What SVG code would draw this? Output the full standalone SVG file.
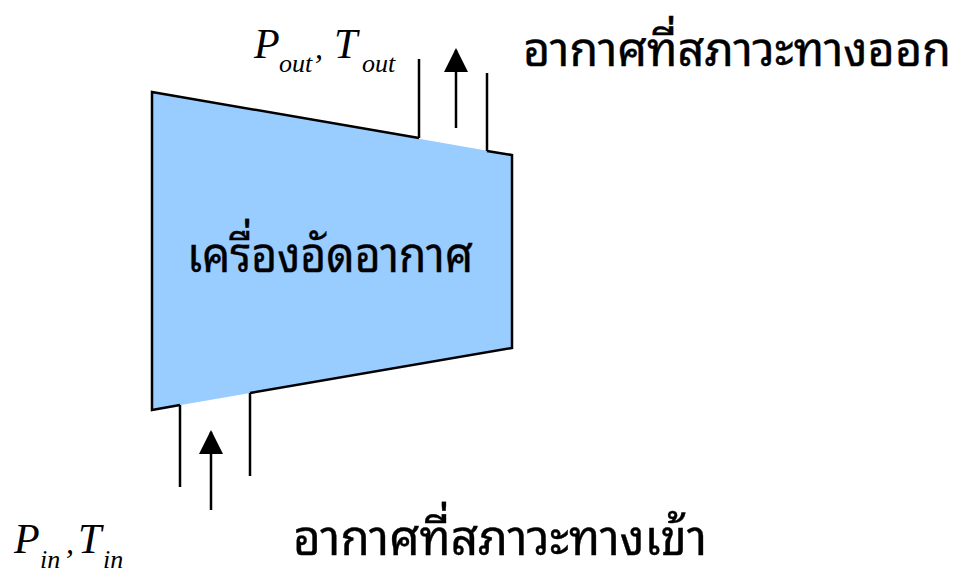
<svg xmlns="http://www.w3.org/2000/svg" width="963" height="573" viewBox="0 0 963 573">
<style>
.ln{stroke:#000;stroke-width:2.5;fill:none}
.thai{font-family:"Noto Sans Thai Looped","Loma","Garuda","Tlwg Typo","Noto Serif Thai","Noto Sans Thai","DejaVu Sans",sans-serif;font-weight:normal;fill:#000;stroke:#000;stroke-width:0.4}
.m{font-family:"Liberation Serif","Times New Roman",serif;font-style:italic;fill:#000}
.sub{font-size:26px}
</style>
<defs>
<marker id="ah" markerWidth="24" markerHeight="24" viewBox="0 0 24 24" refX="22" refY="12" orient="auto" markerUnits="userSpaceOnUse">
<path d="M0,0 L24,12 L0,24 Z" fill="#000"/>
</marker>
</defs>
<g id="compressor">
<polygon points="152,92 512,155 512,348 152,410" fill="#99CCFF" stroke="none"/>
<path class="ln" d="M419,138 L152,92 L152,410 L180,405 M250,393 L512,348 L512,155 L487,151"/>
<text class="thai" x="187" y="272" font-size="50" textLength="286" lengthAdjust="spacingAndGlyphs">เครื่องอัดอากาศ</text>
</g>
<g id="outlet">
<line class="ln" x1="419" y1="59" x2="419" y2="138"/>
<line class="ln" x1="487" y1="73" x2="487" y2="151"/>
<text class="m" x="254" y="58" font-size="42">P<tspan class="sub" x="279" y="72">out</tspan><tspan x="315" y="58" font-size="32">,</tspan><tspan x="334" y="58">T</tspan><tspan class="sub" x="362" y="72">out</tspan></text>
<text class="thai" x="523" y="66" font-size="47" textLength="428" lengthAdjust="spacingAndGlyphs">อากาศที่สภาวะทางออก</text>
</g>
<g id="inlet">
<line class="ln" x1="180" y1="405" x2="180" y2="487"/>
<line class="ln" x1="250" y1="393" x2="250" y2="476"/>
<text class="m" x="14" y="553" font-size="42">P<tspan class="sub" x="40" y="568">in</tspan><tspan x="66" y="553" font-size="32">,</tspan><tspan x="78" y="553">T</tspan><tspan class="sub" x="103" y="568">in</tspan></text>
<text class="thai" x="293" y="555" font-size="50" textLength="414" lengthAdjust="spacingAndGlyphs">อากาศที่สภาวะทางเข้า</text>
</g>
<g id="connectors">
<line class="ln" x1="456" y1="128" x2="456" y2="50" marker-end="url(#ah)"/>
<line class="ln" x1="211" y1="510" x2="211" y2="432" marker-end="url(#ah)"/>
</g>
</svg>
